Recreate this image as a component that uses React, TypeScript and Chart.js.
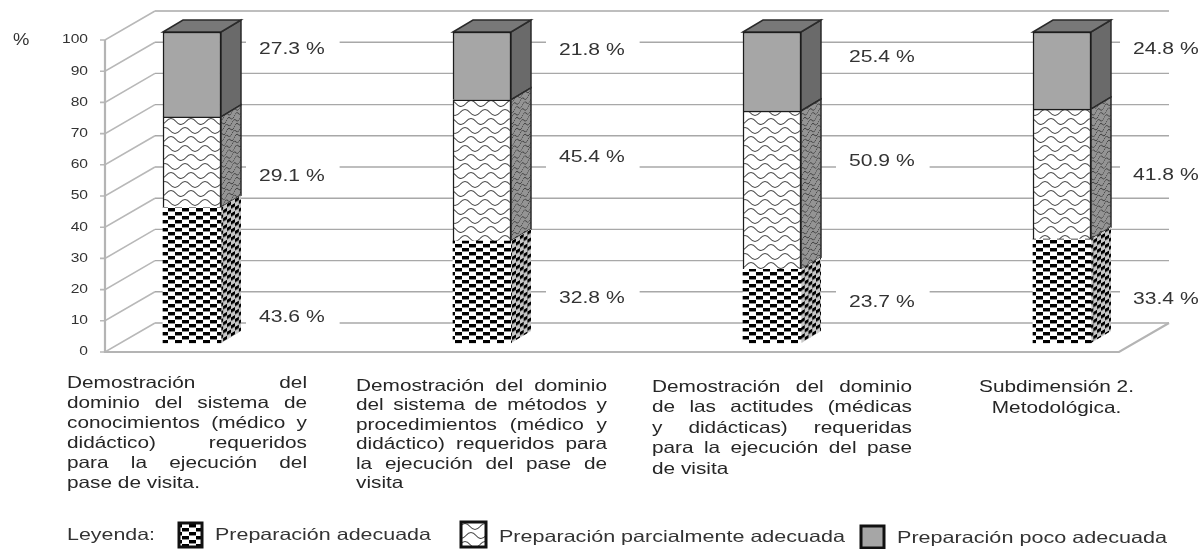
import React, { useEffect, useRef } from "react";
import { Chart, registerables } from "chart.js";

Chart.register(...registerables);

// Survey results per dimension (percent of respondents)
const adecuada = [43.6, 32.8, 23.7, 33.4];
const parcial = [29.1, 45.4, 50.9, 41.8];
const poco = [27.3, 21.8, 25.4, 24.8];
const seriesNames = [
  "Preparación adecuada",
  "Preparación parcialmente adecuada",
  "Preparación poco adecuada",
];
const wallTicks = [0, 10, 20, 30, 40, 50, 60, 70, 80, 90, 100];
const categoryLines = [
  [
    "Demostración del",
    "dominio del sistema de",
    "conocimientos (médico y",
    "didáctico) requeridos",
    "para la ejecución del",
    "pase de visita.",
  ],
  [
    "Demostración del dominio",
    "del sistema de métodos y",
    "procedimientos (médico y",
    "didáctico) requeridos para",
    "la ejecución del pase de",
    "visita",
  ],
  [
    "Demostración del dominio",
    "de las actitudes (médicas",
    "y didácticas) requeridas",
    "para la ejecución del pase",
    "de visita",
  ],
  ["Subdimensión 2.", "Metodológica."],
];

// Page layout of the annotations around the 3D plot
const FONT = '"Liberation Sans"';
const STRETCH = 1.24;
const DEPTH_WALL = { dx: 50, dy: -29 };
const DEPTH_BAR = { dx: 20, dy: -12 };
const valueLabelLeft = [259, 559, 849, 1133];
const valueLabelY = [
  [317, 176, 49],
  [298, 157, 50],
  [302, 161, 57],
  [299, 175, 49],
];
const blocks = [
  { left: 67, right: 307, top: 383, pitch: 20, align: "justify" },
  { left: 356, right: 607, top: 386, pitch: 19.5, align: "justify" },
  { left: 652, right: 912, top: 387, pitch: 20.5, align: "justify" },
  { left: 981, right: 1132, top: 387, pitch: 21, align: "center" },
];
const legendItems = [
  { box: [178, 522, 25, 26], text: 215, width: 216, y: 535 },
  { box: [460, 521, 27, 27], text: 499, width: 346, y: 537 },
  { box: [860, 525, 25, 24], text: 897, width: 270, y: 538 },
];

function checkerTile() {
  const c = document.createElement("canvas");
  c.width = 14;
  c.height = 8;
  const g = c.getContext("2d")!;
  g.fillStyle = "#fff";
  g.fillRect(0, 0, 14, 8);
  g.fillStyle = "#000";
  g.fillRect(0, 0, 7, 3);
  g.fillRect(7, 4, 7, 3);
  g.fillStyle = "#8a8a8a";
  g.fillRect(0, 3, 7, 1);
  g.fillRect(7, 7, 7, 1);
  return c;
}

function waveTile() {
  const c = document.createElement("canvas");
  c.width = 20;
  c.height = 18;
  const g = c.getContext("2d")!;
  g.fillStyle = "#fff";
  g.fillRect(0, 0, 20, 18);
  g.strokeStyle = "#4a4a4a";
  g.lineWidth = 1.1;
  const wave = (y: number, phase: number) => {
    g.beginPath();
    g.moveTo(-20 + phase, y);
    for (let x = -20 + phase; x < 20; x += 20) {
      g.quadraticCurveTo(x + 5, y - 6, x + 10, y);
      g.quadraticCurveTo(x + 15, y + 6, x + 20, y);
    }
    g.stroke();
  };
  wave(4.5, 0);
  wave(13.5, 6);
  return c;
}

function stretchedText(
  ctx: CanvasRenderingContext2D,
  text: string,
  x: number,
  y: number,
  sx = STRETCH,
) {
  ctx.save();
  ctx.translate(x, y);
  ctx.scale(sx, 1);
  ctx.fillText(text, 0, 0);
  ctx.restore();
}

function fillFace(ctx: CanvasRenderingContext2D, pts: number[][], fill: any, stroke?: string) {
  ctx.beginPath();
  pts.forEach(([x, y], i) => (i ? ctx.lineTo(x, y) : ctx.moveTo(x, y)));
  ctx.closePath();
  ctx.fillStyle = fill;
  ctx.fill();
  if (stroke) {
    ctx.strokeStyle = stroke;
    ctx.lineWidth = 1.5;
    ctx.stroke();
  }
}

export default function App() {
  const ref = useRef<HTMLCanvasElement>(null);

  useEffect(() => {
    const canvas = ref.current!;
    const main = canvas.getContext("2d")!;
    const checkerPattern = main.createPattern(checkerTile(), "repeat")!;
    const wavePattern = main.createPattern(waveTile(), "repeat")!;
    const checkerSide = main.createPattern(checkerTile(), "repeat")!;
    checkerSide.setTransform(new DOMMatrix([0.55, -0.33, 0, 1, 0, 0]));
    const waveSide = main.createPattern(waveTile(), "repeat")!;
    waveSide.setTransform(new DOMMatrix([0.4, -0.24, 0, 0.6, 0, 0]));

    const frontFills: any[] = [checkerPattern, wavePattern, "#a6a6a6"];
    const sideFills: any[] = [checkerSide, waveSide, "#6a6a6a"];
    const sideShades = ["rgba(0,0,0,0.22)", "rgba(0,0,0,0.42)", "rgba(0,0,0,0)"];

    // Back wall, floor and the front axis, projected from the wall scale
    const wallPlugin = {
      id: "wall",
      beforeDatasetsDraw(chart: any) {
        const ctx: CanvasRenderingContext2D = chart.ctx;
        const wall = chart.scales.yWall;
        const { left, right } = chart.chartArea;
        const front = left;
        const back = left + DEPTH_WALL.dx;
        ctx.save();
        ctx.lineCap = "butt";
        wallTicks.forEach((v) => {
          const y = wall.getPixelForValue(v);
          const by = y + DEPTH_WALL.dy;
          ctx.strokeStyle = "#a8a8a8";
          ctx.lineWidth = 1.4;
          ctx.beginPath();
          ctx.moveTo(back, by);
          ctx.lineTo(right, by);
          ctx.stroke();
          ctx.strokeStyle = "#b8b8b8";
          ctx.lineWidth = 1.6;
          ctx.beginPath();
          ctx.moveTo(front - 5, y);
          ctx.lineTo(front, y);
          ctx.lineTo(back, by);
          ctx.stroke();
        });
        const y0 = wall.getPixelForValue(0);
        const y100 = wall.getPixelForValue(100);
        ctx.strokeStyle = "#b4b4b4";
        ctx.lineWidth = 2.2;
        ctx.beginPath();
        ctx.moveTo(front, y100);
        ctx.lineTo(front, y0);
        ctx.lineTo(right - DEPTH_WALL.dx, y0);
        ctx.lineTo(right, y0 + DEPTH_WALL.dy);
        ctx.stroke();

        ctx.fillStyle = "#333";
        ctx.font = `12px ${FONT}`;
        ctx.textBaseline = "middle";
        ctx.textAlign = "right";
        wallTicks.forEach((v) => {
          stretchedText(ctx, String(v), 88, wall.getPixelForValue(v), 1.3);
        });
        ctx.font = `16px ${FONT}`;
        ctx.textAlign = "left";
        stretchedText(ctx, "%", 13, 41, 1.15);
        ctx.restore();
      },
    };

    // Side and top faces of each column, taken from the drawn bar elements
    const depthPlugin = {
      id: "depth",
      beforeDatasetDraw(chart: any, args: any) {
        const ctx: CanvasRenderingContext2D = chart.ctx;
        const s = args.index;
        const { dx, dy } = DEPTH_BAR;
        ctx.save();
        chart.getDatasetMeta(s).data.forEach((bar: any) => {
          const r = bar.x + bar.width / 2;
          const l = bar.x - bar.width / 2;
          const side = [
            [r, bar.base],
            [r + dx, bar.base + dy],
            [r + dx, bar.y + dy],
            [r, bar.y],
          ];
          const edge = s === 0 ? undefined : "#2a2a2a";
          fillFace(ctx, side, "#fff");
          fillFace(ctx, side, sideFills[s]);
          fillFace(ctx, side, sideShades[s], edge);
          if (s === 2) {
            fillFace(
              ctx,
              [
                [l, bar.y],
                [l + dx, bar.y + dy],
                [r + dx, bar.y + dy],
                [r, bar.y],
              ],
              "#787878",
              "#2a2a2a",
            );
          }
        });
        ctx.restore();
      },
    };

    // Value labels, category paragraphs and the legend row
    const textPlugin = {
      id: "annotations",
      afterDatasetsDraw(chart: any) {
        const ctx: CanvasRenderingContext2D = chart.ctx;
        ctx.save();
        ctx.textBaseline = "middle";
        ctx.textAlign = "left";

        ctx.font = `17px ${FONT}`;
        chart.data.datasets.forEach((ds: any, s: number) => {
          ds.data.forEach((pt: any, c: number) => {
            const text = `${pt.y} %`;
            const x = valueLabelLeft[c];
            const y = valueLabelY[c][s];
            const w = ctx.measureText(text).width * STRETCH;
            ctx.fillStyle = "#fff";
            ctx.fillRect(x - 13, y - 11, w + 28, 22);
            ctx.fillStyle = "#333";
            stretchedText(ctx, text, x, y);
          });
        });

        ctx.font = `16.5px ${FONT}`;
        ctx.fillStyle = "#262626";
        categoryLines.forEach((lines, c) => {
          const b = blocks[c];
          const sx = 1.26;
          lines.forEach((line, i) => {
            const y = b.top + i * b.pitch;
            if (b.align === "center") {
              const w = ctx.measureText(line).width * sx;
              stretchedText(ctx, line, (b.left + b.right - w) / 2, y, sx);
              return;
            }
            const words = line.split(" ");
            const widths = words.map((t) => ctx.measureText(t).width * sx);
            const total = widths.reduce((a, w) => a + w, 0);
            const isLast = i === lines.length - 1;
            const gap =
              isLast || words.length < 2
                ? ctx.measureText(" ").width * sx
                : (b.right - b.left - total) / (words.length - 1);
            let x = b.left;
            words.forEach((word, k) => {
              stretchedText(ctx, word, x, y, sx);
              x += widths[k] + gap;
            });
          });
        });

        ctx.font = `16.5px ${FONT}`;
        ctx.fillStyle = "#333";
        const ley = "Leyenda:";
        stretchedText(ctx, ley, 67, 535, 88 / ctx.measureText(ley).width);
        legendItems.forEach((item, s) => {
          const [x, y, w, h] = item.box;
          ctx.fillStyle = frontFills[s];
          ctx.fillRect(x, y, w, h);
          ctx.strokeStyle = "#111";
          ctx.lineWidth = 3;
          ctx.strokeRect(x + 1, y + 1, w - 2, h - 2);
          ctx.fillStyle = "#333";
          const name = seriesNames[s];
          stretchedText(ctx, name, item.text, item.y, item.width / ctx.measureText(name).width);
        });
        ctx.restore();
      },
    };

    const seriesValues = [adecuada, parcial, poco];
    const chart = new Chart(canvas, {
      type: "bar",
      data: {
        datasets: seriesValues.map((values, s) => ({
          label: seriesNames[s],
          data: values.map((y, x) => ({ x, y })),
          backgroundColor: frontFills[s],
          borderColor: "#1c1c1c",
          borderWidth: s === 0 ? 0 : 1.5,
          barThickness: 58,
          clip: false as any,
        })),
      },
      plugins: [wallPlugin, depthPlugin, textPlugin],
      options: {
        responsive: false,
        animation: false,
        layout: { padding: { left: 105, right: 33, top: 11, bottom: 197 } },
        plugins: { legend: { display: false }, tooltip: { enabled: false } },
        scales: {
          x: { type: "linear", stacked: true, display: false, offset: false, min: -0.3, max: 3.369 },
          y: { stacked: true, display: false, min: -2.89, max: 106.75 },
          yWall: {
            display: false,
            min: 0,
            max: 109.3,
            afterBuildTicks: (axis: any) => {
              axis.ticks = wallTicks.map((value) => ({ value }));
            },
          },
        },
      } as any,
    });
    return () => chart.destroy();
  }, []);

  return (
    <div style={{ position: "absolute", left: 0, top: 0, width: 1202, height: 549, background: "#fff" }}>
      <canvas ref={ref} width={1202} height={549} style={{ display: "block" }} />
    </div>
  );
}
